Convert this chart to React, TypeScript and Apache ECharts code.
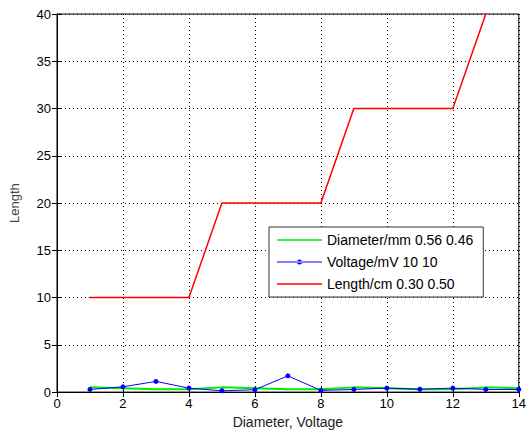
import React, { useEffect, useRef } from "react";
import * as echarts from "echarts";

const xValues = [1, 2, 3, 4, 5, 6, 7, 8, 9, 10, 11, 12, 13, 14];
const diameterMm = [0.5, 0.4, 0.3, 0.3, 0.5, 0.4, 0.3, 0.3, 0.5, 0.4, 0.3, 0.3, 0.5, 0.4];
const voltageMv = [0.28, 0.56, 1.13, 0.42, 0.14, 0.25, 1.72, 0.18, 0.28, 0.42, 0.3, 0.42, 0.28, 0.28];
const lengthCm = [10, 10, 10, 10, 20, 20, 20, 20, 30, 30, 30, 30, 40, 50];
const seriesNames = ["Diameter/mm 0.56 0.46", "Voltage/mV 10 10", "Length/cm 0.30 0.50"];

const FONT = "'Liberation Sans Narrow', 'Liberation Sans', Arial, sans-serif";

const LINE_ICON = "path://M0,0 L45,0 L45,1.4 L0,1.4 Z";
const MARKER_ICON =
  "path://M0,2 L45,2 L45,3 L0,3 Z M20,2.5 A2.5,2.5 0 1 0 25,2.5 A2.5,2.5 0 1 0 20,2.5 Z";

export default function App() {
  const ref = useRef<HTMLDivElement>(null);
  useEffect(() => {
    document.body.style.margin = "0";
    const chart = echarts.init(ref.current!, null, { renderer: "svg" });
    const pair = (ys: number[]) => xValues.map((x, i) => [x, ys[i]]);
    const tickStyle = { show: true, inside: true, length: 5, lineStyle: { color: "#000" } };
    chart.setOption({
      animation: false,
      backgroundColor: "#fff",
      textStyle: { fontFamily: FONT },
      grid: { left: 56, right: 7, top: 14, bottom: 41, show: true, borderColor: "#000", borderWidth: 1, backgroundColor: "transparent" },
      legend: {
        orient: "vertical",
        left: 269,
        top: 227,
        padding: [6, 10, 6, 8],
        itemWidth: 45,
        itemHeight: 14,
        itemGap: 8,
        backgroundColor: "#fff",
        borderColor: "#333",
        borderWidth: 1,
        data: [
          { name: seriesNames[0], icon: LINE_ICON, itemStyle: { color: "#00ee00" } },
          { name: seriesNames[1], icon: MARKER_ICON, itemStyle: { color: "#0000ff" } },
          { name: seriesNames[2], icon: LINE_ICON, itemStyle: { color: "#ff0000" } },
        ],
        textStyle: { fontFamily: FONT, fontSize: 14, color: "#000" },
      },
      xAxis: [
        {
          type: "value", min: 0, max: 14, interval: 2,
          name: "Diameter, Voltage", nameLocation: "middle", nameGap: 22,
          nameTextStyle: { fontFamily: FONT, fontSize: 14, color: "#222" },
          axisLine: { show: true, lineStyle: { color: "#000" } },
          axisTick: tickStyle,
          axisLabel: { margin: 5, fontFamily: FONT, fontSize: 13, color: "#000" },
          splitLine: { show: true, lineStyle: { color: "#000", type: [1, 3], width: 1 } },
        },
        {
          type: "value", min: 0, max: 14, interval: 2, position: "top",
          axisLine: { show: true, lineStyle: { color: "#000" } },
          axisTick: tickStyle, axisLabel: { show: false }, splitLine: { show: false },
        },
      ],
      yAxis: [
        {
          type: "value", min: 0, max: 40, interval: 5,
          name: "Length", nameLocation: "middle", nameGap: 36,
          nameTextStyle: { fontFamily: FONT, fontSize: 13, color: "#444" },
          axisLine: { show: true, lineStyle: { color: "#000" } },
          axisTick: tickStyle,
          axisLabel: { margin: 6, fontFamily: FONT, fontSize: 13, color: "#000" },
          splitLine: { show: true, lineStyle: { color: "#000", type: [1, 3], width: 1 } },
        },
        {
          type: "value", min: 0, max: 40, interval: 5, position: "right",
          axisLine: { show: true, lineStyle: { color: "#000" } },
          axisTick: tickStyle, axisLabel: { show: false }, splitLine: { show: false },
        },
      ],
      series: [
        {
          name: seriesNames[0], type: "line", data: pair(diameterMm),
          symbol: "none", lineStyle: { color: "#00ee00", width: 2 }, itemStyle: { color: "#00ee00" },
        },
        {
          name: seriesNames[1], type: "line", data: pair(voltageMv),
          symbol: "circle", symbolSize: 5, lineStyle: { color: "#0000ff", width: 1 }, itemStyle: { color: "#0000ff" },
        },
        {
          name: seriesNames[2], type: "line", data: pair(lengthCm), clip: true,
          symbol: "none", lineStyle: { color: "#ff0000", width: 1.5 }, itemStyle: { color: "#ff0000" },
        },
      ],
    });
    return () => chart.dispose();
  }, []);
  return <div ref={ref} style={{ width: 529, height: 434 }} />;
}
